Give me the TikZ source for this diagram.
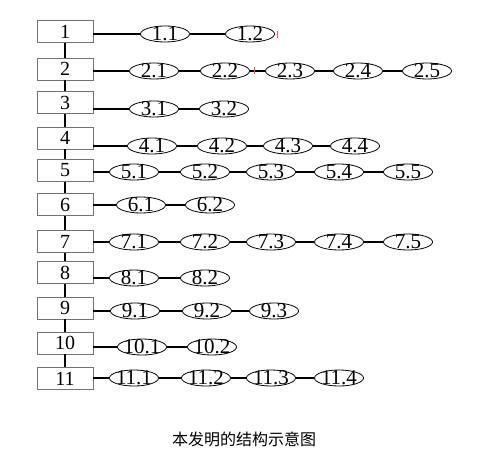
\documentclass[tikz,border=0pt]{standalone}
\usepackage{fontspec}
\setmainfont{Liberation Serif}
\newfontfamily\cjk{Noto Sans CJK SC}
\usetikzlibrary{shapes.geometric}
\newcommand{\elabel}[1]{\raisebox{-6.2pt}[0pt][0pt]{\makebox[0pt]{#1}}}

\begin{document}
\begin{tikzpicture}[x=1pt, y=-1pt,
  unit/.style={rectangle, draw=black!55, fill=white, line width=0.9pt,
               minimum width=56pt, minimum height=22pt, inner sep=0pt,
               font=\fontsize{20}{20}\selectfont},
  part/.style={ellipse, draw, fill=white, line width=0.8pt,
               minimum width=49pt, minimum height=16pt, inner sep=0pt,
               font=\fontsize{21}{21}\selectfont},
  link/.style={line width=2pt}
]
  \useasboundingbox (0,0) rectangle (502,449);

  % rows: number / box y / line y / ellipse x positions
  \foreach \r/\by/\ly/\xs in {
      1/31.5/34/{165,250},
      2/69/71/{154,225,290,358,427},
      3/102.5/109/{154,224},
      4/138/146/{152,222,288,355},
      5/170.5/172/{134,205,271,339,408},
      6/204.5/205/{141,210},
      7/241.5/242/{134,205,271,339,408},
      8/272.5/278/{134,205},
      9/308/311/{135,207,274},
      10/343/347/{142,212},
      11/378.5/378/{134,206,271,339}}{
    \node[unit, alias=e\r-0] (b\r) at (65,\by) {\r};
    \foreach \x [count=\i, remember=\i as \j (initially 0)] in \xs {
      \node[part] (e\r-\i) at (\x,\ly) {\elabel{\r.\i}};
      \draw[link] (e\r-\j.east |- e\r-\i.west) -- (e\r-\i.west);
    }
  }

  % spine between the boxes
  \foreach \r [evaluate=\r as \s using int(\r+1)] in {1,...,10}
    \draw[link] (b\r.south) -- (b\s.north);

  % small red marks
  \draw[red!70, line width=0.6pt] (277,31) -- (277,38);
  \draw[red!70, line width=0.6pt] (254,67) -- (254,74);

  \node[font=\cjk\fontsize{16}{16}\selectfont] (title) at (244,439)
    {本发明的结构示意图};
\end{tikzpicture}
\end{document}
